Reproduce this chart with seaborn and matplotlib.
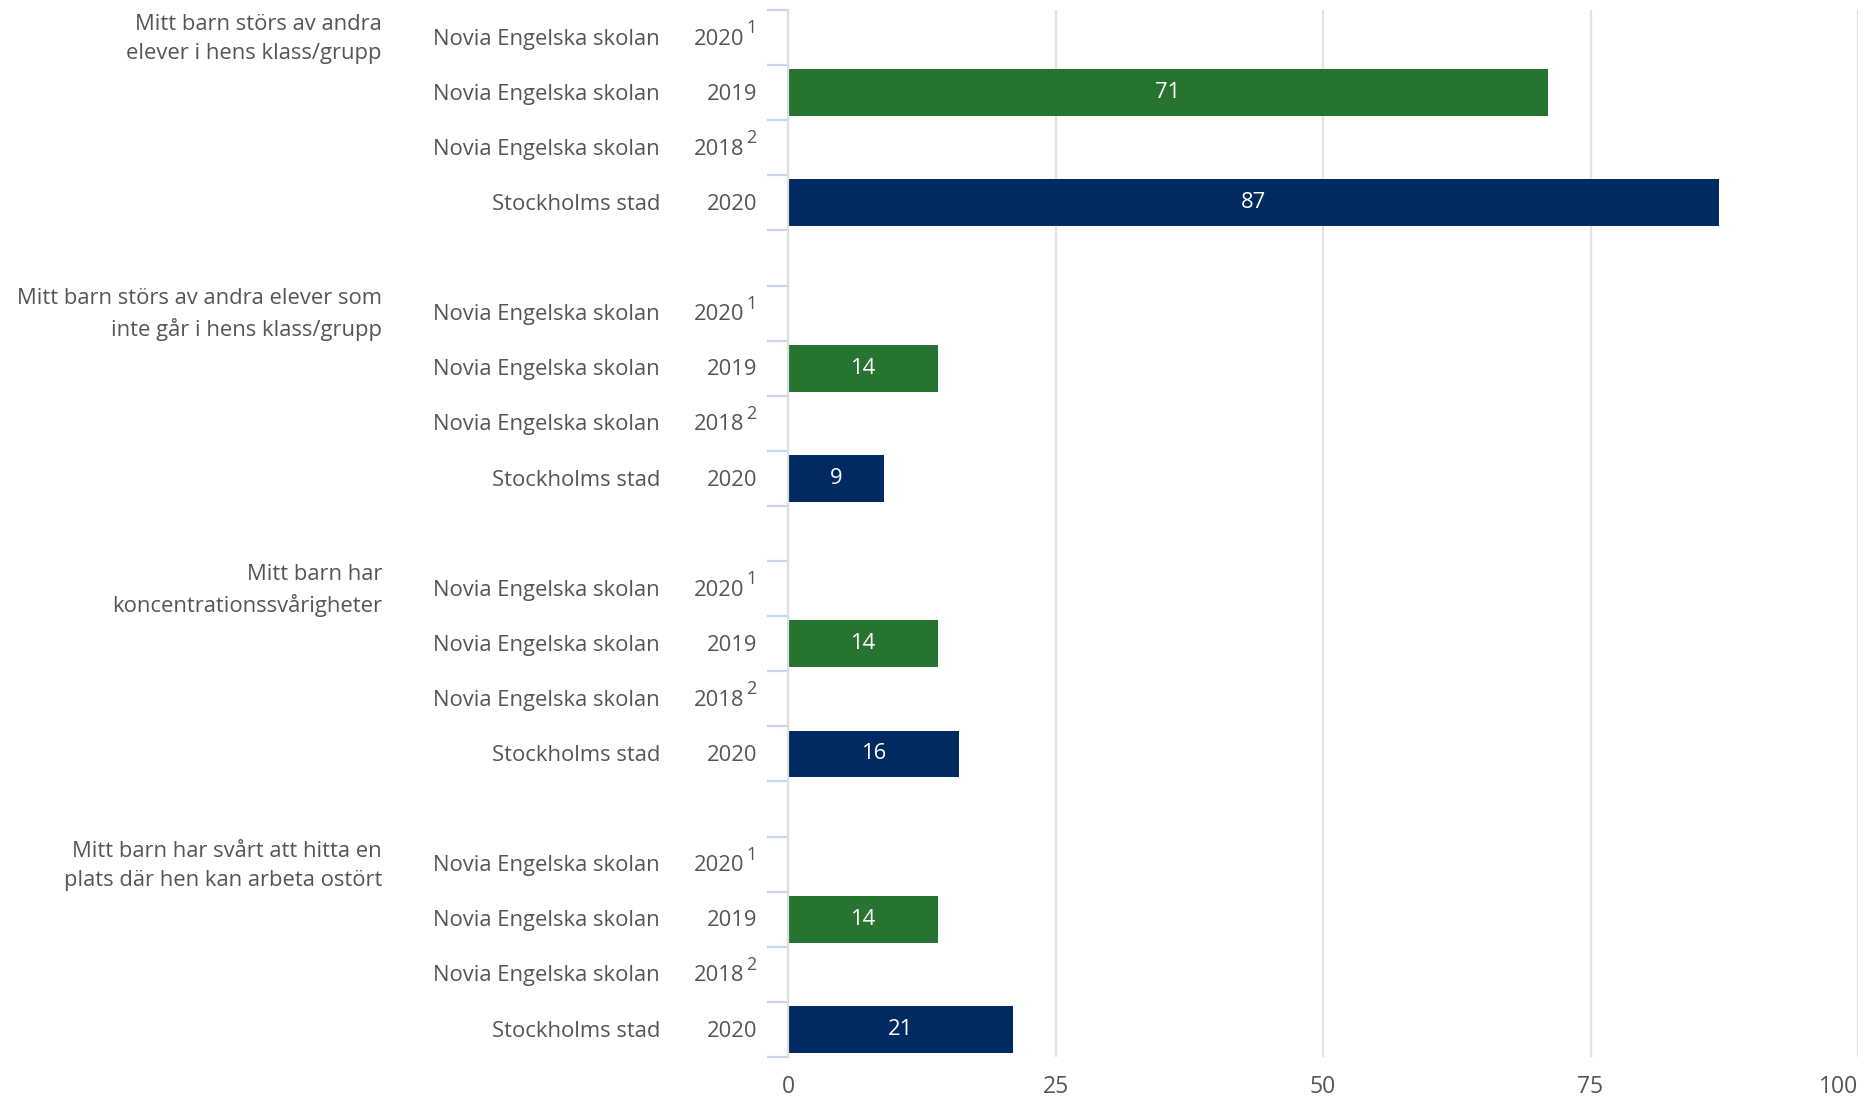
import numpy as np
import pandas as pd
import seaborn as sns
import matplotlib.pyplot as plt
from matplotlib import transforms

# Data
categories = [
    "Mitt barn störs av andra\nelever i hens klass/grupp",
    "Mitt barn störs av andra elever som\ninte går i hens klass/grupp",
    "Mitt barn har\nkoncentrationssvårigheter",
    "Mitt barn har svårt att hitta en\nplats där hen kan arbeta ostört",
]
units = ["Novia Engelska skolan", "Novia Engelska skolan", "Novia Engelska skolan", "Stockholms stad"]
years = ["2020", "2019", "2018", "2020"]
footnotes = ["1", "", "2", ""]
values = [
    [np.nan, 71, np.nan, 87],
    [np.nan, 14, np.nan, 9],
    [np.nan, 14, np.nan, 16],
    [np.nan, 14, np.nan, 21],
]
tick_values = [0, 25, 50, 75, 100]

green = "#277330"
navy = "#002b62"
text_col = "#555555"
fs = 15.8

# one slot per row, plus an empty slot between groups
order = []
records = []
for g in range(len(categories)):
    if g > 0:
        order.append(f"gap{g}")
    for r in range(len(units)):
        key = f"g{g}r{r}"
        order.append(key)
        records.append({"slot": key, "unit": units[r], "value": values[g][r]})
df = pd.DataFrame(records)

sns.set_style("white")
plt.rcParams["font.family"] = ["Open Sans", "DejaVu Sans"]

fig = plt.figure(figsize=(18.75, 10.97), dpi=100)
ax = fig.add_axes([788 / 1875, 1 - 1057 / 1097, 1070 / 1875, 1047 / 1097])

sns.barplot(data=df, x="value", y="slot", hue="unit", order=order,
            palette={"Novia Engelska skolan": green, "Stockholms stad": navy},
            dodge=False, width=0.85, orient="h", legend=False, saturation=1,
            linewidth=0, ax=ax)

for cont in ax.containers:
    ax.bar_label(cont, fmt="%.0f", label_type="center", color="white", fontsize=fs)

ax.set_xlim(0, 100)
ax.set_ylim(len(order) - 0.5, -0.5)
ax.set_xlabel("")
ax.set_ylabel("")

# tick marks at the borders of the rows inside each group
bounds = []
for g in range(len(categories)):
    start = order.index(f"g{g}r0")
    bounds += [start - 0.5 + i for i in range(len(units) + 1)]
ax.set_yticks(bounds)
ax.set_yticklabels([])
ax.tick_params(axis="y", length=15, width=1.6, color="#c9d5ec", left=True)

ax.set_xticks(tick_values)
ax.set_xticklabels([str(v) for v in tick_values], fontsize=16.5, color=text_col)
ax.tick_params(axis="x", length=0, pad=13)
ax.get_xticklabels()[-1].set_horizontalalignment("right")

ax.set_axisbelow(True)
ax.xaxis.grid(True, color="#e3e3e3", linewidth=1.6)
for s in ["top", "right", "bottom"]:
    ax.spines[s].set_visible(False)
ax.spines["left"].set_color("#dedede")
ax.spines["left"].set_linewidth(1.6)

# row and group labels
trans = transforms.blended_transform_factory(ax.transAxes, ax.transData)
for g, cat in enumerate(categories):
    y0 = order.index(f"g{g}r0")
    ax.text(-0.3795, y0 + 0.03, cat, transform=trans, ha="right", va="center",
            fontsize=fs, color=text_col, linespacing=1.5)
    for r in range(len(units)):
        y = y0 + r + 0.03
        ax.text(-0.1196, y, units[r], transform=trans, ha="right", va="center",
                fontsize=fs, color=text_col)
        if footnotes[r]:
            ax.text(-0.0405, y, years[r], transform=trans, ha="right", va="center",
                    fontsize=fs, color=text_col)
            ax.text(-0.0392, y - 0.2, footnotes[r], transform=trans, ha="left", va="center",
                    fontsize=13, color=text_col)
        else:
            ax.text(-0.029, y, years[r], transform=trans, ha="right", va="center",
                    fontsize=fs, color=text_col)

fig.savefig("out.png", dpi=100)
